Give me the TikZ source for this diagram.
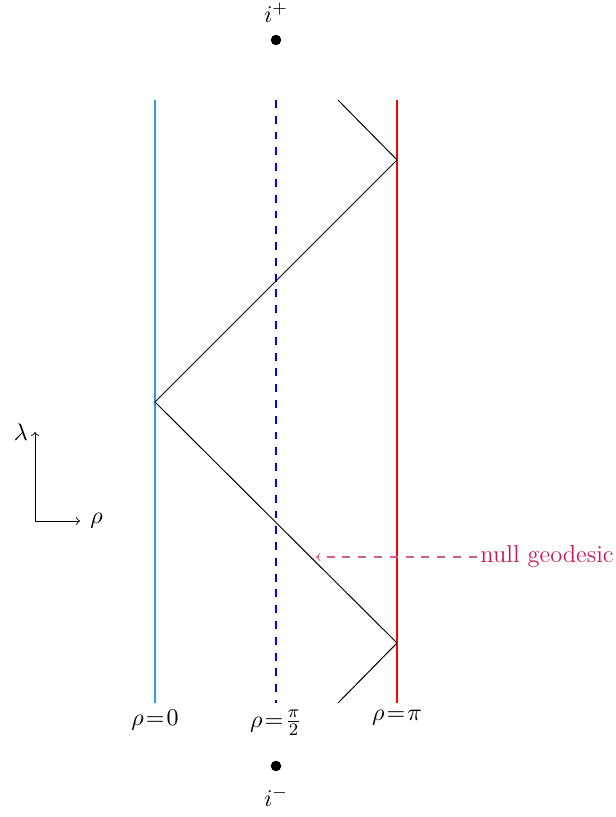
\documentclass[tikz,border=0pt]{standalone}
\usepackage{amsmath}
\definecolor{leftblue}{RGB}{40,160,225}
\definecolor{annot}{RGB}{200,25,85}
\definecolor{annotline}{RGB}{215,95,140}
\newcommand{\tighteq}{\mkern1.5mu{=}\mkern1.5mu}
\tikzset{
  every node/.style={font=\fontsize{11.15}{13.5}\selectfont},
  boundary/.style={line width=0.5pt},
  longdash/.style={dash pattern=on 3.6pt off 3.6pt},
  geo/.style={black, line width=0.45pt},
  dotmark/.style={circle, fill=black, inner sep=0pt, minimum size=4.8pt},
  lbl/.style={inner sep=3pt},
}
\begin{document}
\begin{tikzpicture}[x=0.456pt,y=-0.456pt]
\useasboundingbox (0,0) rectangle (615,817);
% boundary coordinates
\coordinate (L0t) at (155,100); \coordinate (L0b) at (155,703);
\coordinate (Lht) at (276,100); \coordinate (Lhb) at (276,703);
\coordinate (Lpt) at (397,100); \coordinate (Lpb) at (397,703);
\draw[boundary, draw=leftblue] (L0t) -- (L0b);
\draw[boundary, draw=blue, longdash] (Lht) -- (Lhb);
\draw[boundary, draw=red] (Lpt) -- (Lpb);
% null geodesic
\coordinate (g1) at (338,100);
\coordinate (g2) at (397,160);
\coordinate (g3) at (155,402);
\coordinate (g4) at (397,643);
\coordinate (g5) at (338,703);
\draw[geo] (g1) -- (g2) -- (g3) -- (g4) -- (g5);
% labels
\node[lbl, below] (r0) at (L0b) {$\rho\tighteq0$};
\node[lbl, below] (rh) at (Lhb) {$\rho\tighteq\frac{\pi}{2}$};
\node[lbl, below] (rp) at (Lpb) {$\rho\tighteq\pi$};
% infinities
\node[dotmark] (ip) at (276,40) {};
\node[dotmark] (im) at (276,766) {};
\node (ipl) at (276,13) {$i^+$};
\node (iml) at (276,797) {$i^-$};
% axes
\coordinate (o) at (35,521);
\coordinate (ax) at (80,521);
\coordinate (ay) at (35,432);
\draw[->] (o) -- (ay);
\draw[->] (o) -- (ax);
\node[left, inner sep=3pt] (lam) at (ay) {$\lambda$};
\node[right, inner sep=4.5pt] (rho) at (ax) {$\rho$};
% annotation
\node[text=annot, anchor=east, inner sep=0pt] (ng) at (614,557) {null geodesic};
\coordinate (tip) at (316,557);
\draw[draw=annotline, line width=0.5pt, longdash, ->] ([xshift=-1.5pt]ng.west) -- (tip);
\end{tikzpicture}
\end{document}
